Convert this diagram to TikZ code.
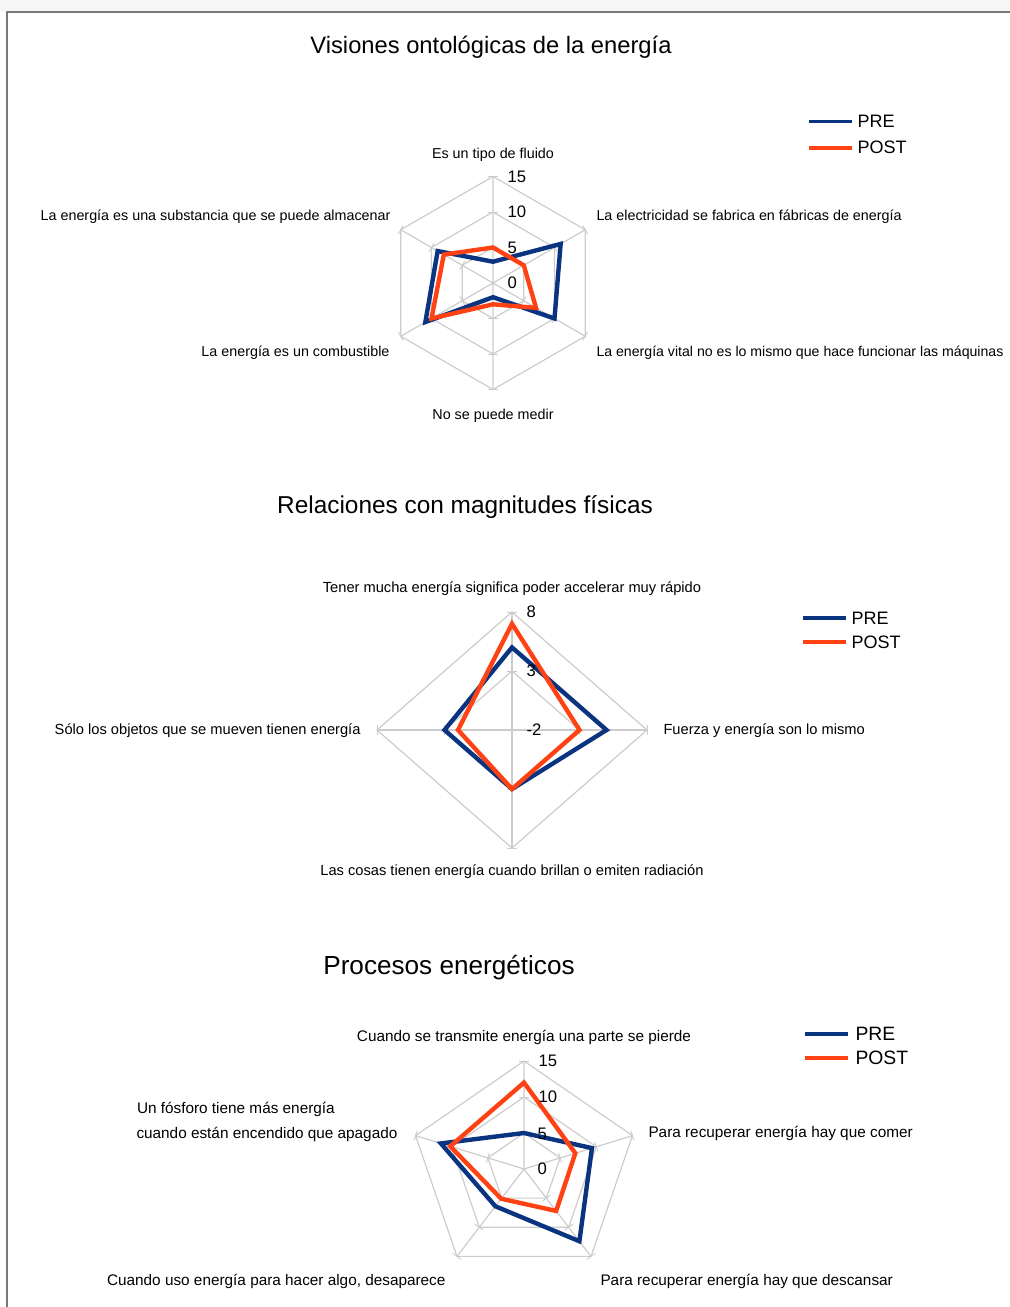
\documentclass[tikz,border=0pt]{standalone}
\usepackage{fontspec}
\setmainfont{Liberation Sans}

\definecolor{preblue}{RGB}{10,52,128}
\definecolor{postred}{RGB}{255,66,20}
\definecolor{gridgray}{RGB}{204,204,204}
\definecolor{framegray}{RGB}{120,120,120}

\tikzset{every picture/.style={line width=0.75pt}}

\begin{document}
\begin{tikzpicture}[x=0.75pt,y=0.75pt,yscale=-1,xscale=1,
  gridln/.style={draw=gridgray,line width=0.9pt},
  tickln/.style={draw=gridgray,line width=0.7pt},
  preln/.style={draw=preblue,line width=3.3pt},
  postln/.style={draw=postred,line width=3.3pt},
  ticklab/.style={inner sep=0pt,anchor=west,font=\fontsize{12.5}{14}\selectfont},
  leglab/.style={inner sep=0pt,anchor=base west,font=\fontsize{13.5}{16}\selectfont}]
\useasboundingbox (0,0) rectangle (1010,1307);

%Shape: Rectangle [frame]
\fill [gray!7] (0,0) rectangle (1010,11);
\draw [framegray,line width=1.5pt] (7,1307) -- (7,11.5) -- (1010,11.5) ;

% ---------------- Visiones ontologicas ----------------
% Text Node
\draw (491,53) node (title1) [anchor=base,inner sep=0pt,font=\fontsize{17.8}{20}\selectfont] {Visiones ontológicas de la energía};

\begin{scope}[shift={(493,283)},x=5.325pt,y=5.325pt]
%Shape: Polygon [rings]
\draw [gridln] (-90:5) -- (-30:5) -- (30:5) -- (90:5) -- (150:5) -- (210:5) -- cycle ;
\draw [gridln] (-90:10) -- (-30:10) -- (30:10) -- (90:10) -- (150:10) -- (210:10) -- cycle ;
\draw [gridln] (-90:15) -- (-30:15) -- (30:15) -- (90:15) -- (150:15) -- (210:15) -- cycle ;
%Straight Lines [axes]
\draw [gridln] (-90:15) -- (90:15) (-30:15) -- (150:15) (30:15) -- (210:15) ;
%Straight Lines [ticks]
\draw [tickln] ([shift={(0:3.75pt)}]-90:5) -- ([shift={(180:3.75pt)}]-90:5) ([shift={(0:3.75pt)}]-90:10) -- ([shift={(180:3.75pt)}]-90:10) ([shift={(0:3.75pt)}]-90:15) -- ([shift={(180:3.75pt)}]-90:15) ;
\draw [tickln] ([shift={(0:3.75pt)}]90:5) -- ([shift={(180:3.75pt)}]90:5) ([shift={(0:3.75pt)}]90:10) -- ([shift={(180:3.75pt)}]90:10) ([shift={(0:3.75pt)}]90:15) -- ([shift={(180:3.75pt)}]90:15) ;
\draw [tickln] ([shift={(60:3.75pt)}]-30:5) -- ([shift={(240:3.75pt)}]-30:5) ([shift={(60:3.75pt)}]-30:10) -- ([shift={(240:3.75pt)}]-30:10) ([shift={(60:3.75pt)}]-30:15) -- ([shift={(240:3.75pt)}]-30:15) ;
\draw [tickln] ([shift={(60:3.75pt)}]150:5) -- ([shift={(240:3.75pt)}]150:5) ([shift={(60:3.75pt)}]150:10) -- ([shift={(240:3.75pt)}]150:10) ([shift={(60:3.75pt)}]150:15) -- ([shift={(240:3.75pt)}]150:15) ;
\draw [tickln] ([shift={(120:3.75pt)}]30:5) -- ([shift={(300:3.75pt)}]30:5) ([shift={(120:3.75pt)}]30:10) -- ([shift={(300:3.75pt)}]30:10) ([shift={(120:3.75pt)}]30:15) -- ([shift={(300:3.75pt)}]30:15) ;
\draw [tickln] ([shift={(120:3.75pt)}]210:5) -- ([shift={(300:3.75pt)}]210:5) ([shift={(120:3.75pt)}]210:10) -- ([shift={(300:3.75pt)}]210:10) ([shift={(120:3.75pt)}]210:15) -- ([shift={(300:3.75pt)}]210:15) ;
%Shape: Polygon [PRE]
\draw [preln] (-90:3) -- (-30:11) -- (30:10) -- (90:2) -- (150:11) -- (210:9) -- cycle ;
%Shape: Polygon [POST]
\draw [postln] (-90:5) -- (-30:5) -- (30:7) -- (90:3) -- (150:10) -- (210:8) -- cycle ;
\end{scope}

% Text Node
\draw (507,283) node (v1a) [ticklab] {0};
\draw (507,247.5) node (v1b) [ticklab] {5};
\draw (507,212) node (v1c) [ticklab] {10};
\draw (507,176.5) node (v1d) [ticklab] {15};
% Text Node
\draw (493,158) node (lab1a) [anchor=base,inner sep=0pt,font=\fontsize{10.75}{12}\selectfont] {Es un tipo de fluido};
\draw (596,220) node (lab1b) [anchor=base west,inner sep=0pt,font=\fontsize{10.75}{12}\selectfont] {La electricidad se fabrica en fábricas de energía};
\draw (596,356) node (lab1c) [anchor=base west,inner sep=0pt,font=\fontsize{10.6}{12}\selectfont] {La energía vital no es lo mismo que hace funcionar las máquinas};
\draw (493,419) node (lab1d) [anchor=base,inner sep=0pt,font=\fontsize{10.75}{12}\selectfont] {No se puede medir};
\draw (390,356) node (lab1e) [anchor=base east,inner sep=0pt,font=\fontsize{10.75}{12}\selectfont] {La energía es un combustible};
\draw (391,220) node (lab1f) [anchor=base east,inner sep=0pt,font=\fontsize{10.75}{12}\selectfont] {La energía es una substancia que se puede almacenar};
%Straight Lines [legend]
\draw [preln,line width=2.5pt] (809,121.5) -- (852,121.5) ;
\draw [postln,line width=2.5pt] (809,148) -- (852,148) ;
\draw (857,127) node (leg1a) [leglab] {PRE};
\draw (857,153) node (leg1b) [leglab] {POST};

% ---------------- Relaciones con magnitudes ----------------
% Text Node
\draw (465,513) node (title2) [anchor=base,inner sep=0pt,font=\fontsize{18.3}{21}\selectfont] {Relaciones con magnitudes físicas};

\begin{scope}[shift={(512,730)},x=10.125pt,y=8.85pt]
%Shape: Polygon [rings]
\draw [gridln] (-90:5) -- (0:5) -- (90:5) -- (180:5) -- cycle ;
\draw [gridln] (-90:10) -- (0:10) -- (90:10) -- (180:10) -- cycle ;
%Straight Lines [axes]
\draw [gridln] (-90:10) -- (90:10) (0:10) -- (180:10) ;
%Straight Lines [ticks]
\draw [tickln] ([shift={(0:3.75pt)}]-90:5) -- ([shift={(180:3.75pt)}]-90:5) ([shift={(0:3.75pt)}]-90:10) -- ([shift={(180:3.75pt)}]-90:10) ([shift={(0:3.75pt)}]90:5) -- ([shift={(180:3.75pt)}]90:5) ([shift={(0:3.75pt)}]90:10) -- ([shift={(180:3.75pt)}]90:10) ;
\draw [tickln] ([shift={(90:3.75pt)}]0:5) -- ([shift={(270:3.75pt)}]0:5) ([shift={(90:3.75pt)}]0:10) -- ([shift={(270:3.75pt)}]0:10) ([shift={(90:3.75pt)}]180:5) -- ([shift={(270:3.75pt)}]180:5) ([shift={(90:3.75pt)}]180:10) -- ([shift={(270:3.75pt)}]180:10) ;
%Shape: Polygon [PRE]
\draw [preln] (-90:7) -- (0:7) -- (90:5) -- (180:5) -- cycle ;
%Shape: Polygon [POST]
\draw [postln] (-90:9) -- (0:5) -- (90:5) -- (180:4) -- cycle ;
\end{scope}

% Text Node
\draw (526,730) node (v2a) [ticklab] {-2};
\draw (526,670.5) node (v2b) [ticklab] {3};
\draw (526,611.5) node (v2c) [ticklab] {8};
% Text Node
\draw (512,592) node (lab2a) [anchor=base,inner sep=0pt,font=\fontsize{11}{13}\selectfont] {Tener mucha energía significa poder accelerar muy rápido};
\draw (663,734) node (lab2b) [anchor=base west,inner sep=0pt,font=\fontsize{11}{13}\selectfont] {Fuerza y energía son lo mismo};
\draw (512,875) node (lab2c) [anchor=base,inner sep=0pt,font=\fontsize{11}{13}\selectfont] {Las cosas tienen energía cuando brillan o emiten radiación};
\draw (361,734) node (lab2d) [anchor=base east,inner sep=0pt,font=\fontsize{11}{13}\selectfont] {Sólo los objetos que se mueven tienen energía};
%Straight Lines [legend]
\draw [preln,line width=2.5pt] (803,618) -- (846,618) ;
\draw [postln,line width=2.5pt] (803,642) -- (846,642) ;
\draw (851,624) node (leg2a) [leglab] {PRE};
\draw (851,648) node (leg2b) [leglab] {POST};

% ---------------- Procesos energeticos ----------------
% Text Node
\draw (449,974) node (title3) [anchor=base,inner sep=0pt,font=\fontsize{19.6}{22}\selectfont] {Procesos energéticos};

\begin{scope}[shift={(524,1169)},x=5.7pt,y=5.4pt]
%Shape: Polygon [rings]
\draw [gridln] (-90:5) -- (-18:5) -- (54:5) -- (126:5) -- (198:5) -- cycle ;
\draw [gridln] (-90:10) -- (-18:10) -- (54:10) -- (126:10) -- (198:10) -- cycle ;
\draw [gridln] (-90:15) -- (-18:15) -- (54:15) -- (126:15) -- (198:15) -- cycle ;
%Straight Lines [axes]
\draw [gridln] (0,0) -- (-90:15) (0,0) -- (-18:15) (0,0) -- (54:15) (0,0) -- (126:15) (0,0) -- (198:15) ;
%Straight Lines [ticks]
\draw [tickln] ([shift={(0:3.75pt)}]-90:5) -- ([shift={(180:3.75pt)}]-90:5) ([shift={(0:3.75pt)}]-90:10) -- ([shift={(180:3.75pt)}]-90:10) ([shift={(0:3.75pt)}]-90:15) -- ([shift={(180:3.75pt)}]-90:15) ;
\draw [tickln] ([shift={(72:3.75pt)}]-18:5) -- ([shift={(252:3.75pt)}]-18:5) ([shift={(72:3.75pt)}]-18:10) -- ([shift={(252:3.75pt)}]-18:10) ([shift={(72:3.75pt)}]-18:15) -- ([shift={(252:3.75pt)}]-18:15) ;
\draw [tickln] ([shift={(144:3.75pt)}]54:5) -- ([shift={(324:3.75pt)}]54:5) ([shift={(144:3.75pt)}]54:10) -- ([shift={(324:3.75pt)}]54:10) ([shift={(144:3.75pt)}]54:15) -- ([shift={(324:3.75pt)}]54:15) ;
\draw [tickln] ([shift={(216:3.75pt)}]126:5) -- ([shift={(36:3.75pt)}]126:5) ([shift={(216:3.75pt)}]126:10) -- ([shift={(36:3.75pt)}]126:10) ([shift={(216:3.75pt)}]126:15) -- ([shift={(36:3.75pt)}]126:15) ;
\draw [tickln] ([shift={(288:3.75pt)}]198:5) -- ([shift={(108:3.75pt)}]198:5) ([shift={(288:3.75pt)}]198:10) -- ([shift={(108:3.75pt)}]198:10) ([shift={(288:3.75pt)}]198:15) -- ([shift={(108:3.75pt)}]198:15) ;
%Shape: Polygon [PRE]
\draw [preln] (-90:5) -- (-18:9.4) -- (54:12.4) -- (126:6.4) -- (198:11.5) -- cycle ;
%Shape: Polygon [POST]
\draw [postln] (-90:12) -- (-18:7.1) -- (54:7.2) -- (126:5.1) -- (198:10.2) -- cycle ;
\end{scope}

% Text Node
\draw (537,1169) node (v3a) [ticklab] {0};
\draw (537,1134) node (v3b) [ticklab] {5};
\draw (538,1096.5) node (v3c) [ticklab] {10};
\draw (538,1061) node (v3d) [ticklab] {15};
% Text Node
\draw (524,1041) node (lab3a) [anchor=base,inner sep=0pt,font=\fontsize{11.5}{13}\selectfont] {Cuando se transmite energía una parte se pierde};
\draw (648,1137) node (lab3b) [anchor=base west,inner sep=0pt,font=\fontsize{11.5}{13}\selectfont] {Para recuperar energía hay que comer};
\draw (600,1285) node (lab3c) [anchor=base west,inner sep=0pt,font=\fontsize{11.5}{13}\selectfont] {Para recuperar energía hay que descansar};
\draw (446,1285) node (lab3d) [anchor=base east,inner sep=0pt,font=\fontsize{11.5}{13}\selectfont] {Cuando uso energía para hacer algo, desaparece};
\draw (136.5,1113) node (lab3e) [anchor=base west,inner sep=0pt,font=\fontsize{11.5}{13}\selectfont] {Un fósforo tiene más energía};
\draw (136,1138) node (lab3f) [anchor=base west,inner sep=0pt,font=\fontsize{11.5}{13}\selectfont] {cuando están encendido que apagado};
%Straight Lines [legend]
\draw [preln,line width=2.5pt] (805,1034) -- (848,1034) ;
\draw [postln,line width=2.5pt] (805,1058) -- (848,1058) ;
\draw (855,1040.5) node (leg3a) [leglab,font=\fontsize{14.5}{17}\selectfont] {PRE};
\draw (855,1064.5) node (leg3b) [leglab,font=\fontsize{14.5}{17}\selectfont] {POST};

\end{tikzpicture}
\end{document}
